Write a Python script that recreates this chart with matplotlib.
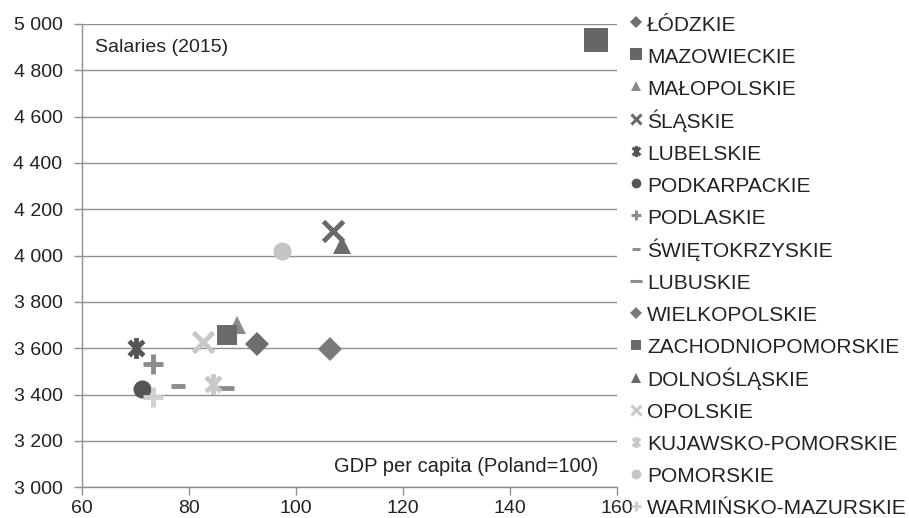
import matplotlib
matplotlib.use("Agg")
import matplotlib.pyplot as plt
from matplotlib.path import Path
from matplotlib.markers import MarkerStyle

plt.rcParams['font.family'] = ['Liberation Sans', 'DejaVu Sans']

regions = ["ŁÓDZKIE", "MAZOWIECKIE", "MAŁOPOLSKIE", "ŚLĄSKIE", "LUBELSKIE",
           "PODKARPACKIE", "PODLASKIE", "ŚWIĘTOKRZYSKIE", "LUBUSKIE",
           "WIELKOPOLSKIE", "ZACHODNIOPOMORSKIE", "DOLNOŚLĄSKIE", "OPOLSKIE",
           "KUJAWSKO-POMORSKIE", "POMORSKIE", "WARMIŃSKO-MAZURSKIE"]
gdp = [92.7, 156.1, 89.0, 106.9, 70.1, 71.2, 73.3, 77.9, 86.7,
       106.4, 87.1, 108.6, 82.6, 84.5, 97.4, 73.3]
salary = [3619, 4931, 3700, 4107, 3602, 3425, 3533, 3438, 3429,
          3597, 3658, 4046, 3628, 3446, 4020, 3390]

x_ticks = [60, 80, 100, 120, 140, 160]
y_ticks = [3000, 3200, 3400, 3600, 3800, 4000, 4200, 4400, 4600, 4800, 5000]
y_labels = ["3 000", "3 200", "3 400", "3 600", "3 800", "4 000", "4 200",
            "4 400", "4 600", "4 800", "5 000"]

# Excel-style asterisk: X plus vertical bar
ast = Path([(-0.7, -0.7), (0.7, 0.7), (-0.7, 0.7), (0.7, -0.7), (0, -1), (0, 1)],
           [Path.MOVETO, Path.LINETO, Path.MOVETO, Path.LINETO, Path.MOVETO, Path.LINETO])
ast_m = MarkerStyle(ast)

markers = ['D', 's', '^', 'x', ast_m, 'o', '+', '_', '_', 'D', 's', '^', 'x', ast_m, 'o', '+']
colors = ['#6e6e6e', '#666666', '#8a8a8a', '#6a6a6a', '#555555', '#555555', '#8c8c8c',
          '#8c8c8c', '#8c8c8c', '#7a7a7a', '#6a6a6a', '#6a6a6a', '#c8c8c8', '#c8c8c8',
          '#c4c4c4', '#cfcfcf']
sizes = [12, 17, 13, 15, 15, 13, 14, 10, 13, 12, 14, 13, 15, 15, 13, 14]
legend_sizes = [6, 8, 7, 7, 8, 7, 7, 6, 8, 6, 7, 7, 7, 8, 7, 7]
line_markers = {'x', '+', '_'}

fig = plt.figure(figsize=(9.09, 5.18), dpi=100)
ax = fig.add_axes([0.0902, 0.0593, 0.5886, 0.8944])

handles = []
for i, name in enumerate(regions):
    m = markers[i]
    is_line = (m in line_markers) if isinstance(m, str) else True
    kw = dict(marker=m, linestyle='none', markersize=sizes[i])
    if is_line:
        kw.update(color=colors[i], markeredgewidth=3.5)
    else:
        kw.update(color=colors[i], markeredgewidth=0)
    ax.plot([gdp[i]], [salary[i]], zorder=3, **kw)
    lk = dict(kw)
    lk['markersize'] = legend_sizes[i]
    if is_line:
        lk['markeredgewidth'] = 2.2
    h, = ax.plot([], [], label=name, **lk)
    handles.append(h)

ax.set_xlim(60, 160)
ax.set_ylim(3000, 5000)
ax.set_xticks(x_ticks)
ax.set_yticks(y_ticks)
ax.set_yticklabels(y_labels)
ax.grid(axis='y', color='#8f8f8f', linewidth=1.0)
ax.set_axisbelow(True)
for s in ['top', 'right']:
    ax.spines[s].set_visible(False)
for s in ['left', 'bottom']:
    ax.spines[s].set_color('#8f8f8f')
    ax.spines[s].set_linewidth(1.0)
ax.tick_params(axis='both', colors='#8f8f8f', labelcolor='#222222',
               labelsize=14, length=6, width=1.0, direction='out')
ax.tick_params(axis='x', pad=3)
ax.tick_params(axis='y', pad=8)

ax.text(0.025, 0.968, "Salaries (2015)", transform=ax.transAxes, fontsize=14,
        color='#222222', va='top', ha='left')
ax.text(0.965, 0.045, "GDP per capita (Poland=100)", transform=ax.transAxes,
        fontsize=14.5, color='#222222', va='center', ha='right')

fig.legend(handles=handles, loc='upper left', bbox_to_anchor=(0.693, 0.974),
           frameon=False, fontsize=15, handlelength=0.6, handleheight=1.15,
           handletextpad=0.22, labelspacing=0.51, borderaxespad=0,
           borderpad=0.0, labelcolor='#222222')

fig.savefig("out.png", dpi=100, facecolor='white')
